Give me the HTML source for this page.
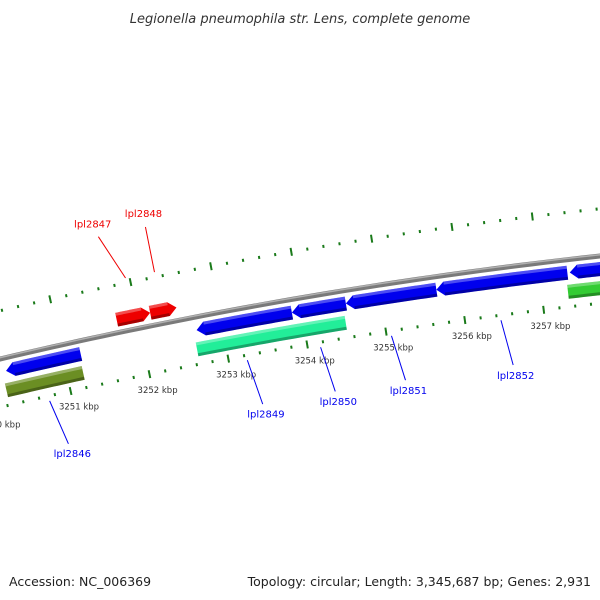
<!DOCTYPE html>
<html><head><meta charset="utf-8">
<style>
html,body{margin:0;padding:0;background:#fff;}
svg{display:block;font-family:"DejaVu Sans","Liberation Sans",sans-serif;}
</style></head>
<body>
<svg id="map" width="600" height="600" viewBox="0 0 600 600" xmlns="http://www.w3.org/2000/svg">
<rect width="600" height="600" fill="#fff"/>
<text x="300" y="23" text-anchor="middle" font-size="13" font-style="italic" fill="#333">Legionella pneumophila str. Lens, complete genome</text>
<text x="9" y="586" font-size="12.5" fill="#222">Accession: NC_006369</text>
<text x="591" y="586" text-anchor="end" font-size="12.5" fill="#222">Topology: circular; Length: 3,345,687 bp; Genes: 2,931</text>
<g id="layer"></g>
</svg>
<script>
// ---- data (kbp positions) ----
const tickMajorKbp = [3250, 3251, 3252, 3253, 3254, 3255, 3256, 3257, 3258];
const tickLabels = ["3250 kbp","3251 kbp","3252 kbp","3253 kbp","3254 kbp","3255 kbp","3256 kbp","3257 kbp","3258 kbp"];
const featStart = [3250.28, 3252.68, 3253.88, 3254.56, 3255.70, 3257.38, 3250.23, 3252.64, 3257.33, 3251.74, 3252.16];
const featEnd   = [3251.22, 3253.88, 3254.56, 3255.70, 3257.35, 3258.20, 3251.20, 3254.52, 3258.20, 3252.16, 3252.49];
const featRing  = [-1, -1, -1, -1, -1, -1, -2, -2, -2, 1, 1];
const featStrand= [-1, -1, -1, -1, -1, -1, 0, 0, 0, 1, 1];
const featColor = ["#0000ee","#0000ee","#0000ee","#0000ee","#0000ee","#0000ee","#6b8e23","#22ee99","#33cc33","#ee0000","#ee0000"];
const labelNames = ["lpl2846","lpl2849","lpl2850","lpl2851","lpl2852","lpl2847","lpl2848"];
const labelKbp   = [3250.72, 3253.23, 3254.16, 3255.06, 3256.45, 3251.95, 3252.31];
const labelShift = [0.11, 0.09, 0.09, 0.09, 0.08, -0.22, 0.0];
const labelSide  = [-1, -1, -1, -1, -1, 1, 1];

// ---- geometry ----
const A=[0,359],B=[300,298],C=[600,256];
function circ(a,b,c){const d=2*(a[0]*(b[1]-c[1])+b[0]*(c[1]-a[1])+c[0]*(a[1]-b[1]));
 const s=p=>p[0]*p[0]+p[1]*p[1];
 const ux=(s(a)*(b[1]-c[1])+s(b)*(c[1]-a[1])+s(c)*(a[1]-b[1]))/d;
 const uy=(s(a)*(c[0]-b[0])+s(b)*(a[0]-c[0])+s(c)*(b[0]-a[0]))/d;
 return [ux,uy,Math.hypot(a[0]-ux,a[1]-uy)];}
const [cx,cy,R]=circ(A,B,C);
const pxPerKbp=79.6;
function pt(kbp,d){const u=140+(kbp-3252)*pxPerKbp;const y=cy-Math.sqrt(R*R-(u-cx)*(u-cx));
 const nx=(u-cx)/R, ny=(y-cy)/R;return [cx+nx*(R+d), cy+ny*(R+d)];}
const NS="http://www.w3.org/2000/svg";
const layer=document.getElementById('layer');
function mk(tag,attrs,parent){const e=document.createElementNS(NS,tag);for(const k in attrs)e.setAttribute(k,attrs[k]);(parent||layer).appendChild(e);return e;}
function arcPath(k0,k1,d,n){const pts=[];for(let i=0;i<=n;i++){pts.push(pt(k0+(k1-k0)*i/n,d));}return pts;}
function fmt(pts){return pts.map(p=>p[0].toFixed(2)+','+p[1].toFixed(2)).join(' ');}

// backbone
const bb=arcPath(3249.0,3258.5,0,60);
let e=mk('polyline',{points:fmt(bb),fill:'none',stroke:'#7a7a7a','stroke-width':5});


e=mk('polyline',{points:fmt(arcPath(3249.0,3258.5,1.3,60)),fill:'none',stroke:'#b0b0b0','stroke-width':1.5});



// ticks
const tg=mk('g',{});


for(let k=Math.round(3249*5);k<=Math.round(3258.5*5);k++){
 const kb=k/5;const major=(k%5===0);
 [47,-47].forEach(d=>{const L=major?4:1.5;
  const p0=pt(kb,d-L),p1=pt(kb,d+L);
  const t=mk('line',{x1:p0[0],y1:p0[1],x2:p1[0],y2:p1[1],stroke:'#1a7a1a','stroke-width':2},tg);
  
  });
}
tickMajorKbp.forEach((kb,i)=>{const p=pt(kb+0.06,-64);
 const t=mk('text',{x:p[0],y:p[1]+3,'text-anchor':'middle','font-size':8.5,fill:'#333'});
 t.textContent=tickLabels[i];
 
 });

// features
const ringD={'1':13,'-1':-13,'-2':-32};
featStart.forEach((s,i)=>{
 const d=ringD[featRing[i]];const h=14;const en=featEnd[i];const head=0.1;
 let outer,inner,poly;
 if(featStrand[i]===-1){
  outer=arcPath(s+head,en,d+h/2,20);inner=arcPath(s+head,en,d-h/2,20).reverse();
  poly=[pt(s,d)].concat(outer,inner);
 }else if(featStrand[i]===1){
  outer=arcPath(s,en-head,d+h/2,20);inner=arcPath(s,en-head,d-h/2,20).reverse();
  poly=outer.concat([pt(en,d)],inner);
 }else{
  outer=arcPath(s,en,d+h/2,20);inner=arcPath(s,en,d-h/2,20).reverse();poly=outer.concat(inner);
 }
 const g=mk('g',{});
 
 
 mk('polygon',{points:fmt(poly),fill:featColor[i]},g);
 const s2=featStrand[i]===-1?s+head:s, e2=featStrand[i]===1?en-head:en;
 mk('polygon',{points:fmt(arcPath(s2,e2,d+h/2,20).concat(arcPath(s2,e2,d+h/2-3,20).reverse())),fill:'#fff','fill-opacity':0.3},g);
 mk('polygon',{points:fmt(arcPath(s2,e2,d-h/2+3,20).concat(arcPath(s2,e2,d-h/2,20).reverse())),fill:'#000','fill-opacity':0.3},g);
});

// labels
labelNames.forEach((nm,i)=>{
 const side=labelSide[i];const col=side<0?'#0000ee':'#ee0000';
 const p0=pt(labelKbp[i],side*52),p1=pt(labelKbp[i]+labelShift[i],side*98);
 const l=mk('line',{x1:p0[0],y1:p0[1],x2:p1[0],y2:p1[1],stroke:col,'stroke-width':1});
 
 
 const pt2=pt(labelKbp[i]+labelShift[i]*1.2,side*108);
 const t=mk('text',{x:pt2[0],y:pt2[1]+(side<0?4:0),'text-anchor':'middle','font-size':10,fill:col});
 t.textContent=nm;
 
 
});
</script>
</body></html>
